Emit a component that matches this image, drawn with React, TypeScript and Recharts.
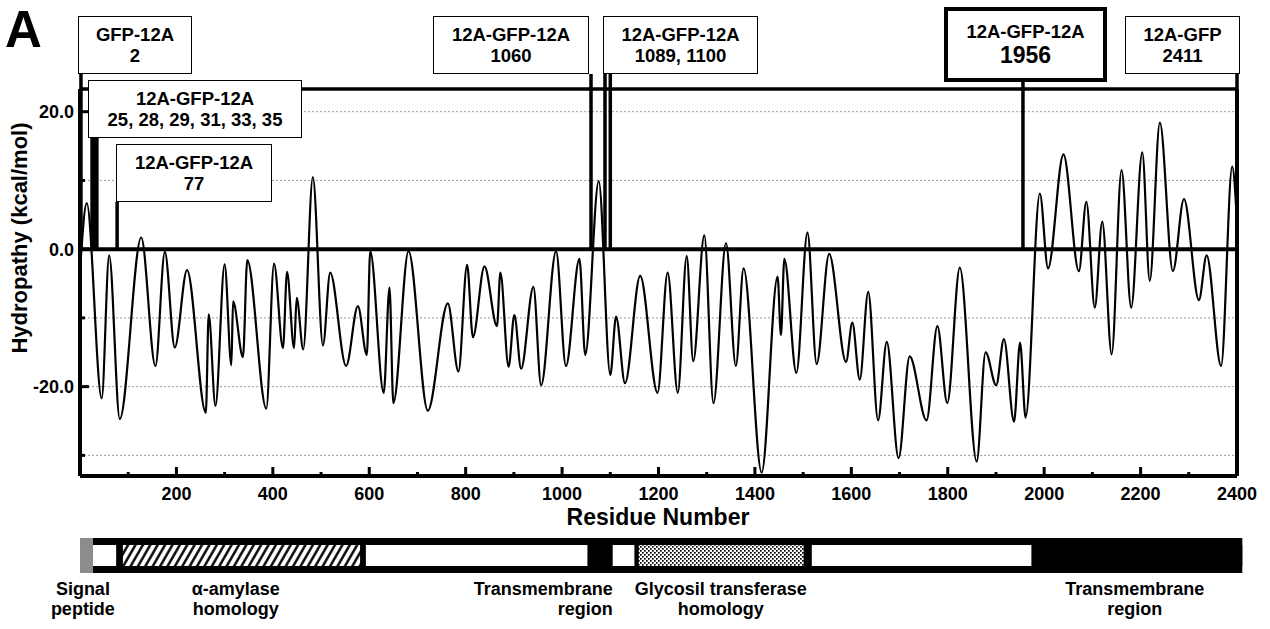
import {
  LineChart,
  Line,
  XAxis,
  YAxis,
  CartesianGrid,
  ReferenceLine,
  ReferenceArea,
  ReferenceDot,
  ComposedChart,
} from 'recharts'

const FONT = '"Liberation Sans", Arial, Helvetica, sans-serif'

const RESIDUES = [
  1, 14, 45, 60.5, 82.5, 127, 156.5, 176, 196.6, 222, 261, 267, 281, 300, 314, 317.5, 338, 347,
  386.5, 402.5, 421, 429.5, 444, 449.5, 463, 483, 504, 519, 552, 576.5, 595, 602, 630, 642, 650,
  681.5, 721.5, 763, 785, 803, 815, 839, 865, 872, 889, 901, 915, 940.5, 956.5, 987.5, 1008, 1036,
  1048, 1076, 1100, 1112, 1130.5, 1162, 1198, 1219, 1240, 1258.5, 1272, 1295, 1314, 1340, 1360.5,
  1376.5, 1414, 1447, 1454, 1461, 1486, 1509, 1528, 1554, 1589, 1602, 1617.5, 1635, 1655.5, 1673.5,
  1698, 1721, 1756, 1778.5, 1799, 1825, 1860, 1878.5, 1900.5, 1916.5, 1937.5, 1950, 1961.5, 1991,
  2008, 2040, 2072, 2087.5, 2105, 2120.5, 2140, 2160.5, 2180.5, 2203.5, 2219, 2240, 2267, 2290,
  2321, 2337, 2367, 2390, 2400,
]
const HYDROPATHY = [
  -2, 6.7, -21.7, -0.9, -24.7, 1.7, -17, -0.4, -14.3, -3.05, -23.8, -9.5, -22.8, -2.2, -16.9, -7.6,
  -15.7, -1.6, -23.2, -2.1, -14.4, -3.3, -14.4, -7.1, -14.6, 10.5, -14, -3.4, -17, -8.3, -15.4, -0.3,
  -20.9, -5.6, -22.4, -0.3, -23.5, -7.9, -17.8, -2.3, -12.8, -2.5, -11.2, -3.4, -17.1, -9.6, -17.4,
  -5.5, -19.8, -0.3, -17, -1.4, -15.4, 9.9, -18.3, -9.8, -19.5, -3.9, -20.9, -3.4, -20.9, -1.0,
  -16.3, 2.0, -22.4, 0.9, -17, -2.8, -32.5, -4.0, -12.5, -1.4, -18, 2.4, -16.7, -0.7, -16.4, -10.7,
  -19, -6.2, -24.9, -13.5, -30.4, -15.6, -24.9, -11.2, -22.4, -2.7, -30.9, -15, -19.8, -13.1, -25.1,
  -13.6, -24.5, 8.1, -2.8, 13.8, -3.2, 6.9, -8.5, 4.0, -15.3, 11.5, -8.5, 14.1, -4.6, 18.4, -3.2,
  7.3, -7.4, -0.9, -17, 12, 4,
]

const X_TICKS = [
  0, 100, 200, 300, 400, 500, 600, 700, 800, 900, 1000, 1100, 1200, 1300, 1400, 1500, 1600, 1700,
  1800, 1900, 2000, 2100, 2200, 2300, 2400,
]
const X_LABELS = [200, 400, 600, 800, 1000, 1200, 1400, 1600, 1800, 2000, 2200, 2400]
const Y_TICKS = [-30, -20, -10, 0, 10, 20]
const Y_LABELS = [-20, 0, 20]

// insertion constructs and their sites
const CONSTRUCTS = ['GFP-12A', '12A-GFP-12A', '12A-GFP-12A', '12A-GFP-12A', '12A-GFP-12A', '12A-GFP-12A', '12A-GFP']
const SITES = [[2], [25, 28, 29, 31, 33, 35], [77], [1060], [1089, 1100], [1956], [2411]]

// protein domain map
const DOMAIN_START = [0, 27, 89, 593, 1053, 1105, 1159, 1518, 1974]
const DOMAIN_END = [27, 75, 581, 1053, 1105, 1150, 1501, 1974, 2411]
const DOMAIN_KIND = ['signal', 'plain', 'amylase', 'plain', 'tm', 'plain', 'glycosyl', 'plain', 'tm']

const REGION_TEXT = [
  ['Signal', 'peptide'],
  ['α-amylase', 'homology'],
  ['Transmembrane', 'region'],
  ['Glycosil transferase', 'homology'],
  ['Transmembrane', 'region'],
]
const REGION_AT = [6, 323, 1105, 1329, 2188]

const X_MAX = 2400
const Y_MIN = -33
const Y_MAX = 23.3

// layout
const PLOT_TOP = 89
const PLOT_BOTTOM = 476

const FILLS: Record<string, string> = {
  signal: '#8c8c8c',
  plain: '#fff',
  amylase: 'url(#hatch)',
  glycosyl: 'url(#dots)',
  tm: '#000',
}

const BOX_LAYOUT = [
  { left: 78, top: 16, width: 114, height: 58 },
  { left: 88, top: 80, width: 214, height: 58 },
  { left: 116, top: 144, width: 156, height: 58 },
  { left: 433, top: 16, width: 156, height: 58 },
  { left: 603, top: 16, width: 155, height: 58 },
  { left: 944, top: 7, width: 163, height: 75, heavy: true },
  { left: 1125, top: 16, width: 115, height: 58 },
]

const valueAtPx = (py: number) =>
  Y_MAX - ((py - PLOT_TOP) * (Y_MAX - Y_MIN)) / (PLOT_BOTTOM - PLOT_TOP)

const profile = RESIDUES.map((r, i) => ({ res: r, hyd: HYDROPATHY[i] }))

function YTick(props: any) {
  const { x, y, payload } = props
  const major = Y_LABELS.includes(payload.value)
  return (
    <g>
      <line x1={x} x2={x + (major ? 9 : 5)} y1={y} y2={y} stroke="#000" strokeWidth={3} />
      {major && (
        <text x={x - 6} y={y} dy="0.36em" textAnchor="end" fontSize={18} fontWeight="bold" fontFamily={FONT} fill="#000">
          {payload.value.toFixed(1)}
        </text>
      )}
    </g>
  )
}

function XTick(props: any) {
  const { x, y, payload } = props
  const major = payload.value % 200 === 0
  return (
    <g>
      <line x1={x} x2={x} y1={y} y2={y - (major ? 9 : 4)} stroke="#000" strokeWidth={3} />
      {X_LABELS.includes(payload.value) && (
        <text x={x} y={y + 24} textAnchor="middle" fontSize={18} fontWeight="bold" fontFamily={FONT} fill="#000">
          {payload.value}
        </text>
      )}
    </g>
  )
}

function RegionLabel(props: any) {
  const { viewBox, lines, anchor } = props
  const cx = viewBox.x + viewBox.width / 2
  const cy = viewBox.y + viewBox.height / 2
  return (
    <text textAnchor={anchor} fontSize={18} fontWeight="bold" fontFamily={FONT} fill="#000">
      <tspan x={cx} y={cy + 22}>{lines[0]}</tspan>
      <tspan x={cx} y={cy + 42}>{lines[1]}</tspan>
    </text>
  )
}

export default function App() {
  return (
    <div style={{ position: 'relative', width: 1270, height: 629, background: '#fff', fontFamily: FONT, overflow: 'hidden' }}>
      <style>{'body{margin:0}'}</style>
      <svg width={0} height={0} style={{ position: 'absolute' }}>
        <defs>
          <pattern id="hatch" width="6.4" height="6.4" patternUnits="userSpaceOnUse" patternTransform="rotate(30)">
            <rect width="6.4" height="6.4" fill="#fff" />
            <line x1="3.2" y1="0" x2="3.2" y2="6.4" stroke="#000" strokeWidth="2.4" />
          </pattern>
          <pattern id="dots" width="4" height="4" patternUnits="userSpaceOnUse">
            <rect width="4" height="4" fill="#fff" />
            <rect x="0" y="0" width="1.7" height="1.7" fill="#000" />
            <rect x="2" y="2" width="1.7" height="1.7" fill="#000" />
          </pattern>
        </defs>
      </svg>

      {/* hydropathy plot */}
      <div style={{ position: 'absolute', left: 0, top: 0 }}>
        <LineChart width={1270} height={530} data={profile} margin={{ top: PLOT_TOP, right: 33, bottom: 0, left: 0 }}>
          <CartesianGrid vertical={false} stroke="#9a9a9a" strokeDasharray="2 2" strokeWidth={1} />
          <XAxis
            dataKey="res"
            type="number"
            domain={[0, X_MAX]}
            ticks={X_TICKS}
            interval={0}
            allowDataOverflow
            height={54}
            tickSize={0}
            tickMargin={0}
            tick={(p: any) => <XTick {...p} />}
            axisLine={{ stroke: '#000', strokeWidth: 4 }}
          />
          <YAxis
            type="number"
            domain={[Y_MIN, Y_MAX]}
            ticks={Y_TICKS}
            interval={0}
            allowDataOverflow
            width={80}
            tickSize={0}
            tickMargin={0}
            tick={(p: any) => <YTick {...p} />}
            axisLine={{ stroke: '#000', strokeWidth: 4 }}
          />
          <ReferenceLine y={Y_MAX} stroke="#000" strokeWidth={3.5} />
          <ReferenceLine x={X_MAX} stroke="#000" strokeWidth={4} />
          <ReferenceLine y={0} stroke="#000" strokeWidth={4} />
          {SITES.map((sites, i) =>
            sites.map((s) => (
              <ReferenceLine
                key={`${i}-${s}`}
                ifOverflow="visible"
                stroke="#000"
                strokeWidth={3.5}
                segment={[
                  { x: Math.min(s, X_MAX), y: 0 },
                  { x: Math.min(s, X_MAX), y: valueAtPx(BOX_LAYOUT[i].top + BOX_LAYOUT[i].height) },
                ]}
              />
            )),
          )}
          <Line
            dataKey="hyd"
            type="monotone"
            stroke="#000"
            strokeWidth={2.2}
            dot={false}
            isAnimationActive={false}
          />
        </LineChart>
      </div>

      {/* domain map */}
      <div style={{ position: 'absolute', left: 0, top: 530 }}>
        <ComposedChart width={1270} height={99} data={[{ x: 0 }, { x: X_MAX }]} margin={{ top: 8, right: 33, bottom: 56, left: 80 }}>
          <XAxis dataKey="x" type="number" domain={[0, X_MAX]} hide allowDataOverflow />
          <YAxis type="number" domain={[0, 1]} hide allowDataOverflow />
          <ReferenceArea x1={0} x2={DOMAIN_END[DOMAIN_END.length - 1]} y1={0} y2={1} fill="#000" fillOpacity={1} stroke="none" ifOverflow="visible" />
          {DOMAIN_KIND.map((kind, i) => (
            <ReferenceArea
              key={i}
              x1={DOMAIN_START[i]}
              x2={DOMAIN_END[i]}
              y1={kind === 'signal' ? 0 : 0.2}
              y2={kind === 'signal' ? 1 : 0.8}
              fill={FILLS[kind]}
              fillOpacity={1}
              stroke="none"
              ifOverflow="visible"
            />
          ))}
          {REGION_TEXT.map((lines, i) => (
            <ReferenceDot
              key={i}
              x={REGION_AT[i]}
              y={0}
              r={1}
              fill="none"
              stroke="none"
              ifOverflow="visible"
              label={<RegionLabel lines={lines} anchor={i === 2 ? 'end' : 'middle'} />}
            />
          ))}
        </ComposedChart>
      </div>

      {/* titles */}
      <svg width={1270} height={629} style={{ position: 'absolute', left: 0, top: 0, pointerEvents: 'none' }}>
        <text x={5} y={47} fontSize={51} fontWeight="bold" fontFamily={FONT} fill="#000">A</text>
        <text transform="translate(27, 238) rotate(-90)" textAnchor="middle" fontSize={22} fontWeight="bold" fontFamily={FONT} fill="#000">
          Hydropathy (kcal/mol)
        </text>
        <text x={658} y={525} textAnchor="middle" fontSize={23} fontWeight="bold" fontFamily={FONT} fill="#000">
          Residue Number
        </text>
      </svg>

      {/* construct boxes */}
      {CONSTRUCTS.map((name, i) => {
        const b = BOX_LAYOUT[i]
        return (
          <div
            key={i}
            style={{
              position: 'absolute',
              left: b.left,
              top: b.top,
              width: b.width,
              height: b.height,
              boxSizing: 'border-box',
              border: `${b.heavy ? 4.5 : 1.5}px solid #000`,
              background: '#fff',
              display: 'flex',
              flexDirection: 'column',
              justifyContent: 'center',
              alignItems: 'center',
              fontWeight: 'bold',
              fontSize: 18.5,
              lineHeight: '21px',
              color: '#000',
            }}
          >
            <div>{name}</div>
            <div style={b.heavy ? { fontSize: 23, lineHeight: '26px' } : undefined}>{SITES[i].join(', ')}</div>
          </div>
        )
      })}
    </div>
  )
}
